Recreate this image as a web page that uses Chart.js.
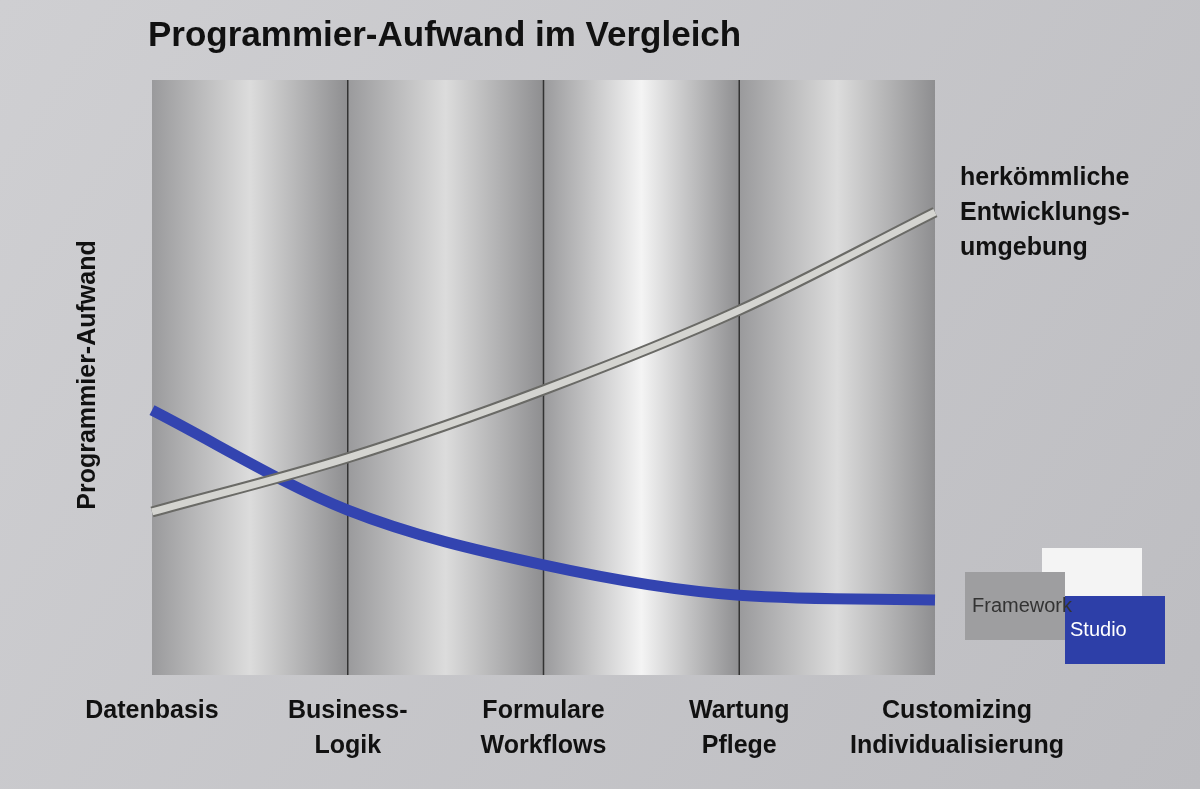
<!DOCTYPE html>
<html><head><meta charset="utf-8">
<script src="https://cdn.jsdelivr.net/npm/chart.js@4"></script>
<style>body{margin:0;background:#c8c8cb}canvas{display:block}</style>
</head><body>
<canvas id="c" width="1200" height="789"></canvas>
<script>
var kategorien = [["Datenbasis"], ["Business-", "Logik"], ["Formulare", "Workflows"], ["Wartung", "Pflege"], ["Customizing", "Individualisierung"]];
var herkoemmlich = [27.4, 36.5, 47.9, 61.3, 77.8];
var frameworkStudio = [44.5, 27.7, 18.5, 13.4, 12.6];

var hintergrund = {
    id: "hintergrund",
    beforeDraw: function (chart) {
        var ctx = chart.ctx, a = chart.chartArea;
        var g = ctx.createLinearGradient(0, 0, 1200, 789);
        g.addColorStop(0, "#cfcfd2");
        g.addColorStop(1, "#bdbdc1");
        ctx.fillStyle = g;
        ctx.fillRect(0, 0, 1200, 789);
        // Spalten mit Verlauf
        var xs = chart.scales.x;
        for (var i = 0; i < 4; i++) {
            var x0 = xs.getPixelForValue(i), x1 = xs.getPixelForValue(i + 1);
            var gr = ctx.createLinearGradient(x0, 0, x1, 0);
            gr.addColorStop(0, "#9a9a9c");
            gr.addColorStop(0.5, i == 2 ? "#f4f4f4" : "#dcdcdc");
            gr.addColorStop(1, "#8e8e90");
            ctx.fillStyle = gr;
            ctx.fillRect(x0, a.top, x1 - x0, a.bottom - a.top);
        }
        ctx.strokeStyle = "#333";
        ctx.lineWidth = 1.5;
        for (var j = 1; j < 4; j++) {
            var x = xs.getPixelForValue(j);
            ctx.beginPath(); ctx.moveTo(x, a.top); ctx.lineTo(x, a.bottom); ctx.stroke();
        }
    },
    afterDraw: function (chart) {
        var ctx = chart.ctx, a = chart.chartArea, xs = chart.scales.x;
        ctx.fillStyle = "#111";
        ctx.font = "bold 35px 'Liberation Sans', Arial";
        ctx.textAlign = "left"; ctx.textBaseline = "middle";
        ctx.fillText("Programmier-Aufwand im Vergleich", 148, 36);
        ctx.font = "bold 25px 'Liberation Sans', Arial";
        ctx.textAlign = "center";
        kategorien.forEach(function (lab, i) {
            var x = xs.getPixelForValue(i) + (i == 4 ? 22 : 0);
            lab.forEach(function (t, k) { ctx.fillText(t, x, 711 + k * 35); });
        });
        ctx.textAlign = "left";
        ["herkömmliche", "Entwicklungs-", "umgebung"].forEach(function (t, k) {
            ctx.fillText(t, 960, 178 + k * 35);
        });
        ctx.save();
        ctx.translate(88, 375); ctx.rotate(-Math.PI / 2);
        ctx.textAlign = "center";
        ctx.fillText("Programmier-Aufwand", 0, 0);
        ctx.restore();
        // Logo
        ctx.fillStyle = "#f4f4f4"; ctx.fillRect(1042, 548, 100, 70);
        ctx.fillStyle = "#2d3fa8"; ctx.fillRect(1065, 596, 100, 68);
        ctx.fillStyle = "#9e9ea0"; ctx.fillRect(965, 572, 100, 68);
        ctx.font = "20px 'Liberation Sans', Arial";
        ctx.fillStyle = "#333"; ctx.fillText("Framework", 972, 606);
        ctx.fillStyle = "#fff"; ctx.fillText("Studio", 1070, 630);
    }
};

new Chart(document.getElementById("c"), {
    type: "line",
    data: {
        labels: kategorien.map(function (l) { return l.join(" "); }),
        datasets: [
            { label: "herkömmliche (Glanz)", data: herkoemmlich, borderColor: "#d4d4d0", borderWidth: 7, pointRadius: 0, cubicInterpolationMode: "monotone" },
            { label: "herkömmliche Entwicklungsumgebung", data: herkoemmlich, borderColor: "#6a6a66", borderWidth: 11, pointRadius: 0, cubicInterpolationMode: "monotone" },
            { label: "Framework Studio", data: frameworkStudio, borderColor: "#3344b0", borderWidth: 11, pointRadius: 0, cubicInterpolationMode: "monotone" }
        ]
    },
    options: {
        responsive: false, animation: false,
        layout: { padding: { left: 152, right: 265, top: 80, bottom: 114 } },
        plugins: { legend: { display: false }, tooltip: { enabled: false } },
        scales: {
            x: { display: false, offset: false },
            y: { display: false, min: 0, max: 100 }
        }
    },
    plugins: [hintergrund]
});
</script>
</body></html>
